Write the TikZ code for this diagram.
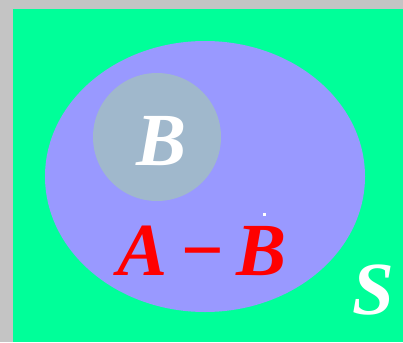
\documentclass[tikz,border=0pt]{standalone}
\usepackage{fontspec}
\setmainfont{Liberation Serif}
\definecolor{bggray}{HTML}{C4C4C4}
\definecolor{setgreen}{HTML}{00FF99}
\definecolor{setblue}{HTML}{9999FF}
\definecolor{setgrayblue}{HTML}{A0B8CC}
\begin{document}
\begin{tikzpicture}[x=1pt,y=-1pt,
  lbl/.style={inner sep=0pt,anchor=base,font=\fontsize{75}{75}\selectfont\bfseries\itshape}]
\useasboundingbox (0,0) rectangle (403,342);
\fill[bggray] (0,0) rectangle (403,342);
\fill[setgreen] (13,9) rectangle (403,342);
\fill[setblue] (205,176.5) ellipse [x radius=160, y radius=135.5];
\fill[setgrayblue] (157,137) circle [radius=64];
\fill[white] (263,213) rectangle (265.5,215.5);
\node[lbl,text=white] (b) at (162,165) {B};
\node[lbl,text=red] (amb) at (202,275) {A\hspace{12pt}−\hspace{12pt}B};
\node[lbl,text=white] (s) at (373.5,314) {S};
\end{tikzpicture}
\end{document}
